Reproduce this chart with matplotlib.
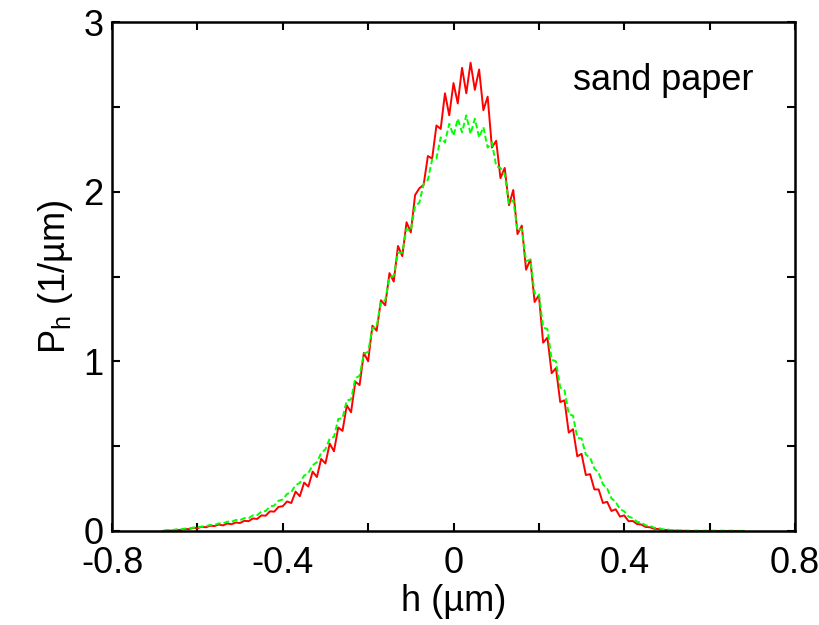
import numpy as np
import matplotlib
matplotlib.use("Agg")
import matplotlib.pyplot as plt
from matplotlib.ticker import MultipleLocator

plt.rcParams['font.family'] = ['Liberation Sans', 'DejaVu Sans']
plt.rcParams['mathtext.fontset'] = 'custom'
plt.rcParams['mathtext.rm'] = 'Liberation Sans'
plt.rcParams['mathtext.it'] = 'Liberation Sans'

# height grid (um), bins from -0.68 to 0.68 in steps of 0.01
h_start, h_stop = -0.68, 0.68

# red curve (solid)
p_red = [
    0.000, 0.003, 0.002, 0.007, 0.006, 0.012, 0.011, 0.019, 0.016, 0.025,
    0.022, 0.031, 0.029, 0.038, 0.033, 0.044, 0.040, 0.050, 0.047, 0.060,
    0.058, 0.074, 0.071, 0.092, 0.090, 0.116, 0.114, 0.142, 0.146, 0.174,
    0.165, 0.232, 0.205, 0.285, 0.262, 0.350, 0.318, 0.425, 0.398, 0.515,
    0.470, 0.610, 0.590, 0.740, 0.700, 0.880, 0.860, 1.050, 1.000, 1.210,
    1.180, 1.360, 1.330, 1.520, 1.470, 1.680, 1.620, 1.820, 1.760, 1.980,
    2.020, 2.040, 2.210, 2.195, 2.390, 2.370, 2.580, 2.450, 2.640, 2.520,
    2.730, 2.580, 2.760, 2.600, 2.720, 2.480, 2.560, 2.260, 2.300, 2.080,
    2.140, 1.920, 2.010, 1.750, 1.800, 1.540, 1.600, 1.350, 1.390, 1.110,
    1.140, 0.930, 0.960, 0.760, 0.770, 0.580, 0.600, 0.440, 0.455, 0.330,
    0.335, 0.245, 0.245, 0.165, 0.172, 0.118, 0.128, 0.085, 0.092, 0.058,
    0.059, 0.041, 0.038, 0.024, 0.022, 0.013, 0.012, 0.006, 0.006, 0.003,
    0.002, 0.002, 0.001, 0.001, 0.000, 0.001, 0.000, 0.001, 0.000, 0.001,
    0.000, 0.001, 0.000, 0.001, 0.000, 0.000, 0.000,
]

# green curve (dashed)
p_green = [
    0.002, 0.005, 0.005, 0.009, 0.009, 0.014, 0.015, 0.020, 0.021, 0.026,
    0.028, 0.036, 0.035, 0.045, 0.044, 0.055, 0.054, 0.065, 0.064, 0.076,
    0.076, 0.092, 0.094, 0.114, 0.118, 0.144, 0.150, 0.178, 0.186, 0.218,
    0.230, 0.270, 0.284, 0.326, 0.342, 0.388, 0.405, 0.460, 0.482, 0.545,
    0.555, 0.660, 0.665, 0.770, 0.775, 0.900, 0.915, 1.045, 1.055, 1.195,
    1.205, 1.350, 1.360, 1.495, 1.505, 1.640, 1.640, 1.780, 1.770, 1.915,
    1.935, 2.045, 2.070, 2.190, 2.195, 2.320, 2.290, 2.400, 2.330, 2.430,
    2.350, 2.450, 2.340, 2.430, 2.320, 2.380, 2.260, 2.290, 2.150, 2.140,
    2.100, 1.930, 1.950, 1.770, 1.780, 1.590, 1.600, 1.400, 1.400, 1.200,
    1.190, 1.010, 1.000, 0.845, 0.830, 0.690, 0.680, 0.550, 0.545, 0.450,
    0.432, 0.368, 0.342, 0.276, 0.250, 0.192, 0.172, 0.128, 0.116, 0.085,
    0.076, 0.054, 0.050, 0.033, 0.031, 0.019, 0.018, 0.010, 0.010, 0.005,
    0.005, 0.002, 0.003, 0.001, 0.002, 0.001, 0.001, 0.001, 0.001, 0.001,
    0.001, 0.001, 0.001, 0.001, 0.001, 0.001, 0.001,
]

h = np.linspace(h_start, h_stop, len(p_red))

fig = plt.figure(figsize=(8.2, 6.25), dpi=100)
ax = fig.add_axes([0.1366, 0.1504, 0.8329, 0.8144])

ax.plot(h, p_red, color='#ff0000', lw=1.4)
ax.plot(h, p_green, color='#00ff00', lw=1.4, linestyle=(0, (3, 1.5)))

ax.set_xlim(-0.8, 0.8)
ax.set_ylim(0, 3)
ax.set_xticks([-0.8, -0.4, 0, 0.4, 0.8])
ax.set_xticklabels(['-0.8', '-0.4', '0', '0.4', '0.8'])
ax.xaxis.set_minor_locator(MultipleLocator(0.2))
ax.set_yticks([0, 1, 2, 3])
ax.set_yticklabels(['0', '1', '2', '3'])
ax.yaxis.set_minor_locator(MultipleLocator(0.5))

ax.tick_params(which='both', direction='in', top=True, right=True,
               length=6, width=1.5, labelsize=26)
ax.tick_params(axis='x', pad=11)
ax.tick_params(axis='y', pad=6)
for s in ax.spines.values():
    s.set_linewidth(1.8)

ax.set_xlabel('h (µm)', fontsize=26, labelpad=2)
ax.set_ylabel('P$_\\mathregular{h}$ (1/µm)', fontsize=26, labelpad=6)

ax.text(0.281, 2.6, 'sand paper', fontsize=26, ha='left', va='baseline')

fig.savefig('out.png', dpi=100)
